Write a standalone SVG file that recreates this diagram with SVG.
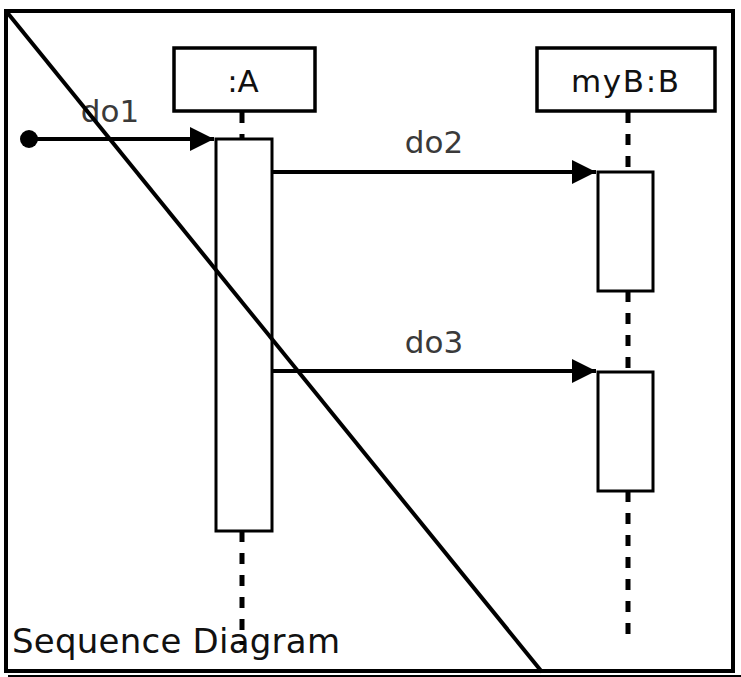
<svg xmlns="http://www.w3.org/2000/svg" width="741" height="677" viewBox="0 0 741 677">
<style>
.box{fill:#fff;stroke:#000;stroke-width:3.5}
.act{fill:#fff;stroke:#000;stroke-width:3}
.life{stroke:#000;stroke-width:5;stroke-dasharray:11 11;fill:none}
.msg{stroke:#000;stroke-width:4;fill:none}
.name{font-family:"DejaVu Sans",sans-serif;font-size:31px;fill:#111;text-anchor:middle}
.lbl{font-family:"DejaVu Sans",sans-serif;font-size:31px;fill:#3a3a3a;text-anchor:middle}
.title{font-family:"DejaVu Sans",sans-serif;font-size:34px;fill:#111}
</style>
<defs>
<marker id="arr" markerWidth="6" markerHeight="6" refX="6" refY="3" orient="auto" markerUnits="strokeWidth">
<path d="M0,0 L6,3 L0,6 Z" fill="#000"/>
</marker>
</defs>
<rect width="741" height="677" fill="#fff"/>
<g id="frame">
<rect x="6" y="11" width="727" height="660" fill="none" stroke="#000" stroke-width="4"/>
<line x1="8" y1="676" x2="741" y2="676" stroke="#000" stroke-width="2"/>
<text class="title" x="12" y="653" textLength="328">Sequence Diagram</text>
</g>
<g id="A">
<line class="life" x1="242" y1="112" x2="242" y2="138"/>
<line class="life" x1="242" y1="531" x2="242" y2="645"/>
<rect class="box" x="174" y="48" width="141" height="63"/>
<text class="name" x="243" y="92">:A</text>
<rect class="act" x="216" y="139" width="56" height="392"/>
</g>
<g id="B">
<line class="life" x1="628" y1="112" x2="628" y2="172"/>
<line class="life" x1="628" y1="291" x2="628" y2="372"/>
<line class="life" x1="628" y1="491" x2="628" y2="645"/>
<rect class="box" x="537" y="48" width="178" height="63"/>
<text class="name" x="625" y="92" textLength="108">myB:B</text>
<rect class="act" x="598" y="172" width="55" height="119"/>
<rect class="act" x="598" y="372" width="55" height="119"/>
</g>
<g id="connectors">
<circle cx="29" cy="139" r="9" fill="#000"/>
<line class="msg" x1="29" y1="139" x2="214" y2="139" marker-end="url(#arr)"/>
<text class="lbl" x="110" y="122">do1</text>
<line class="msg" x1="272" y1="172" x2="596" y2="172" marker-end="url(#arr)"/>
<text class="lbl" x="434" y="153">do2</text>
<line class="msg" x1="272" y1="371" x2="596" y2="371" marker-end="url(#arr)"/>
<text class="lbl" x="434" y="353">do3</text>
</g>
<g id="diagonal">
<line x1="6" y1="11" x2="542" y2="672" stroke="#000" stroke-width="4"/>
</g>
</svg>
